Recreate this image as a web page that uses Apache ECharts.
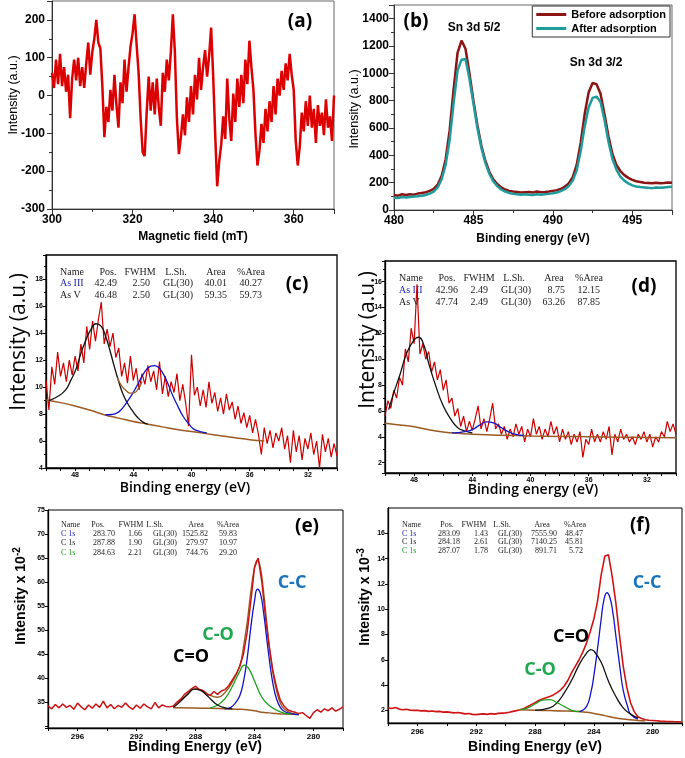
<!DOCTYPE html>
<html><head><meta charset="utf-8">
<script src="https://cdn.jsdelivr.net/npm/echarts@6/dist/echarts.min.js"></script>
<style>html,body{margin:0;padding:0;background:#fff}#c{width:685px;height:758px}</style>
</head><body><div id="c"></div>
<script>
// ---------- (a) EPR spectrum ----------
const a_fieldStart = 300, a_fieldStep = 0.5;
const a_intensity = [60,20,95,30,110,25,75,10,55,-60,
 45,95,40,100,25,75,20,85,140,55,
 115,150,200,140,125,25,-110,-30,-70,15,
 -40,55,-25,-85,35,-20,95,10,75,130,
 165,215,135,60,-60,-150,-160,-45,50,-40,
 35,-50,45,-30,-80,60,10,95,40,115,
 215,115,-60,-155,-110,-50,-105,-5,-70,25,
 -50,55,-10,100,15,75,120,50,105,180,
 55,-100,-240,-175,-130,-55,-115,45,-60,-120,
 5,-70,45,-30,55,-20,95,30,145,75,
 15,-100,-185,-145,-75,-125,-35,-95,-15,-70,
 25,-50,45,0,65,15,85,40,110,55,
 15,-120,-185,-135,-45,-95,-15,-80,0,-85,
 -35,-125,-25,-80,-45,-105,-10,-85,-55,-120,
 0];

// ---------- (b) Sn 3d ----------
const b_energyStart = 480, b_energyStep = 0.25;
const b_before = [110,105,115,110,115,112,120,125,130,140,155,185,250,370,580,880,
 1150,1240,1180,1000,800,620,470,360,280,225,190,165,150,140,135,132,
 128,130,132,128,135,130,132,135,140,145,155,170,195,240,330,490,
 700,860,930,920,850,700,540,410,330,285,255,235,220,210,205,200,
 198,195,200,195,198,202,200];
const b_after = [90,88,95,92,95,98,100,105,110,120,135,165,225,330,510,780,
 1020,1100,1105,960,780,600,455,345,265,210,175,150,135,125,118,115,
 112,115,112,110,115,112,115,118,122,128,138,152,175,215,290,430,
 610,750,820,830,790,660,500,375,295,245,215,195,180,172,168,165,
 162,160,165,162,165,168,170];
const b_series = ['Before adsorption','After adsorption'];

// ---------- (c) As 3d before ----------
const c_energyStart = 50, c_energyStep = -0.2;
const c_intensity = [10.5,8.3,11.5,10.2,12.6,10.8,11.8,10.4,12.0,10.9,
 12.3,11.2,13.2,11.8,14.5,12.8,14.9,13.4,15.0,16.3,
 13.2,14.3,13.0,14.0,12.2,12.9,10.8,11.8,10.3,12.3,
 10.5,11.4,9.8,11.0,10.2,11.6,10.4,11.2,9.8,11.9,
 9.5,10.8,9.3,10.4,9.6,11.0,9.0,10.2,8.8,7.1,
 12.4,9.4,10.0,8.6,9.8,8.5,10.4,8.8,9.6,8.2,
 9.2,8.0,9.5,8.3,8.9,7.6,8.6,7.3,8.1,7.0,
 7.9,6.6,7.6,6.5,5.0,7.0,5.8,6.8,5.5,6.6,
 6.0,7.0,5.4,6.4,4.4,6.8,5.2,6.4,4.6,6.2,
 5.4,6.6,5.0,6.0,4.0,6.5,5.2,6.2,4.8,5.8,
 4.9];
const c_background = [[50,9.05],[49,8.85],[48,8.6],[47,8.3],[46,7.95],[45,7.7],[44,7.45],[43,7.25],[42,7.05],[41,6.85],[40,6.7],[39,6.55],[38,6.4],[37,6.25],[36,6.1],[35,6.0]];
const c_asV = [[49.8,9.0],[49.2,9.3],[48.65,9.8],[48.3,10.5],[47.95,11.3],[47.6,12.5],[47.26,13.5],[46.9,14.3],[46.57,14.7],[46.2,14.5],[45.88,13.7],[45.6,12.7],[45.3,11.5],[45.0,10.4],[44.72,9.5],[44.4,8.8],[44.03,8.2],[43.7,7.75],[43.33,7.4],[43.0,7.25]];
const c_asIII = [[45.9,7.95],[45.5,7.97],[45.18,8.05],[44.85,8.3],[44.5,8.8],[44.15,9.35],[43.8,10.0],[43.45,10.7],[43.1,11.3],[42.8,11.55],[42.53,11.6],[42.25,11.45],[41.95,11.0],[41.6,10.2],[41.26,9.3],[40.9,8.5],[40.56,7.8],[40.2,7.3],[39.87,6.9],[39.4,6.7],[38.95,6.6]];
const c_envelope = [[45.1,10.7],[44.8,10.1],[44.5,9.75],[44.2,9.55],[43.9,9.6],[43.65,9.9],[43.4,10.4]];
const c_names = ['As III','As V'];
const c_pos = ['42.49','46.48'], c_fwhm = ['2.50','2.50'], c_lsh = ['GL(30)','GL(30)'], c_area = ['40.01','59.35'], c_pct = ['40.27','59.73'];

// ---------- (d) As 3d after ----------
const d_energyStart = 50, d_energyStep = -0.2;
const d_intensity = [5.6,6.8,6.2,7.6,7.0,8.6,8.0,10.8,9.8,12.4,
 11.2,15.8,10.4,11.2,10.0,10.6,9.0,9.8,8.4,9.2,
 7.6,8.4,6.6,7.0,5.6,6.2,4.8,5.6,4.4,5.2,
 4.5,5.4,6.4,4.6,5.4,4.4,5.4,6.6,4.6,5.0,
 4.2,4.8,3.8,4.6,4.0,5.0,4.2,4.8,3.6,4.6,
 4.0,5.4,4.2,4.8,3.8,4.6,4.0,5.2,4.2,4.8,
 3.6,4.6,3.8,4.4,3.4,4.2,3.6,4.4,2.4,3.8,
 3.4,4.6,3.6,4.2,3.6,4.4,3.8,4.8,2.6,4.2,
 3.6,4.6,3.8,4.2,3.6,4.0,3.4,4.2,3.8,4.4,
 3.6,4.2,3.2,4.0,3.6,4.4,4.0,5.2,4.4,5.0,
 4.2];
const d_background = [[50,5.05],[49,4.92],[48,4.78],[47,4.55],[46,4.38],[45,4.27],[44,4.2],[43,4.15],[42,4.12],[40,4.07],[38,4.03],[36,4.0],[34,3.97],[32,3.95],[30,3.93]];
const d_asV = [[49.75,6.1],[49.4,7.4],[49,8.7],[48.5,10.5],[48,11.5],[47.7,11.7],[47.3,11.0],[47,9.7],[46.5,7.9],[46,6.4],[45.5,5.4],[45,4.7],[44.5,4.45],[44,4.3]];
const d_asIII = [[45.4,4.3],[45,4.32],[44.5,4.4],[44,4.55],[43.5,4.9],[43,5.15],[42.5,5.05],[42,4.7],[41.5,4.38],[41,4.18],[40.5,4.1]];
const d_names = ['As III','As V'];
const d_pos = ['42.96','47.74'], d_fwhm = ['2.49','2.49'], d_lsh = ['GL(30)','GL(30)'], d_area = ['8.75','63.26'], d_pct = ['12.15','87.85'];

// ---------- (e) C 1s ----------
const e_energyStart = 298, e_energyStep = -0.25;
const e_intensity = [34.2,33.6,34.5,33.8,34.6,33.9,34.3,33.5,34.8,34.0,33.4,34.4,33.7,34.6,33.9,35.2,33.8,34.5,33.6,34.3,
 33.9,34.8,34.0,33.5,34.4,33.7,34.6,34.0,33.6,34.9,33.8,34.4,34.1,34.0,34.2,35.0,35.6,36.6,37.2,37.8,
 38.3,37.6,37.4,36.6,36.4,37.2,36.6,37.3,37.6,38.4,39.6,40.8,42.4,45.0,49.5,56.0,63.0,65.0,60.0,52.5,
 46.5,41.5,38.0,35.4,34.2,33.4,33.1,32.9,32.6,32.8,32.2,31.6,32.8,33.4,32.9,33.6,33.2,33.8,33.1,33.5,
 34.0];
const e_background = [[289.5,33.8],[288,33.75],[287,33.7],[286,33.6],[285,33.5],[284.5,33.4],[284,33.2],[283.5,32.9],[283,32.75],[282.5,32.6],[282,32.5],[281,32.4]];
const e_CC = [[286,33.6],[285.6,33.9],[285.3,34.8],[285,36.3],[284.75,39.2],[284.5,44.0],[284.25,50.5],[284,56.0],[283.8,58.5],[283.6,57.6],[283.4,54.0],[283.2,49.0],[283,44.0],[282.75,38.8],[282.5,35.6],[282.25,33.9],[282,33.1],[281.5,32.6],[281,32.4]];
const e_CO = [[287,33.8],[286.5,34.4],[286,35.7],[285.5,38.3],[285,41.4],[284.7,42.7],[284.4,42.0],[284,39.4],[283.5,36.0],[283,34.3],[282.5,33.3],[282,32.7],[281.5,32.5]];
const e_C_O = [[289.5,33.9],[289,35.2],[288.5,36.7],[288.1,37.7],[287.7,37.5],[287.3,36.6],[287,35.7],[286.5,34.4],[286,33.8],[285.5,33.6]];
const e_envelope = [[289.5,33.9],[289,35.3],[288.5,36.8],[288,37.8],[287.5,37.4],[287,36.4],[286.5,36.0],[286,37.0],[285.5,39.2],[285,42.6],[284.75,46.5],[284.5,51.6],[284.25,58.0],[284,63.0],[283.8,64.6],[283.6,63.0],[283.4,58.5],[283.2,52.5],[283,46.8],[282.75,41.0],[282.5,37.3],[282.25,34.8],[282,33.6],[281.5,32.7],[281,32.4]];
const e_names = ['C 1s','C 1s','C 1s'];
const e_pos = ['283.70','287.88','284.63'], e_fwhm = ['1.66','1.90','2.21'], e_lsh = ['GL(30)','GL(30)','GL(30)'], e_area = ['1525.82','279.97','744.76'], e_pct = ['59.83','10.97','29.20'];

// ---------- (f) C 1s ----------
const f_energyStart = 298, f_energyStep = -0.25;
const f_intensity = [2.20,2.15,2.22,2.10,2.05,2.08,2.02,2.00,2.00,1.96,1.98,1.92,1.95,1.90,1.92,1.86,1.88,1.84,1.80,1.83,
 1.78,1.72,1.75,1.68,1.66,1.70,1.72,1.68,1.74,1.70,1.76,1.78,1.80,1.85,1.92,1.98,2.05,2.15,2.30,2.45,
 2.60,2.78,2.90,3.00,3.10,3.22,3.40,3.62,3.95,4.40,5.00,5.50,6.00,6.60,7.30,8.20,9.20,10.60,12.70,14.20,
 14.30,12.60,10.50,7.90,5.50,3.80,2.60,1.90,1.50,1.35,1.26,1.22,1.20,1.18,1.15,1.14,1.12,1.12,1.10,1.10,
 1.08];
const f_background = [[289,2.05],[288,2.0],[287,1.98],[286,1.95],[285,1.9],[284.5,1.85],[284,1.76],[283.5,1.65],[283,1.52],[282.5,1.4],[282,1.32],[281.5,1.26],[281,1.2],[280.5,1.18]];
const f_CC = [[285,1.9],[284.5,2.3],[284.2,3.4],[284,4.7],[283.7,7.3],[283.5,9.2],[283.3,10.8],[283.1,11.3],[282.9,10.9],[282.7,9.7],[282.5,7.9],[282.2,5.2],[282,3.6],[281.7,2.3],[281.5,1.7],[281,1.3]];
const f_C_O = [[288,2.0],[287,2.2],[286.5,2.6],[286,3.4],[285.5,4.4],[285,5.6],[284.5,6.5],[284.2,6.8],[284,6.7],[283.5,5.8],[283,4.3],[282.5,3.1],[282,2.2],[281.5,1.7],[281,1.4]];
const f_CO = [[289,2.05],[288.5,2.2],[288,2.5],[287.5,2.8],[287,2.85],[286.5,2.6],[286,2.3],[285.5,2.0],[285,1.9]];
const f_names = ['C 1s','C 1s','C 1s'];
const f_pos = ['283.09','284.18','287.07'], f_fwhm = ['1.43','2.61','1.78'], f_lsh = ['GL(30)','GL(30)','GL(30)'], f_area = ['7555.90','7140.25','891.71'], f_pct = ['48.47','45.81','5.72'];

const tableHeader = ['Name','Pos.','FWHM','L.Sh.','Area','%Area'];

// ---------- helpers ----------
function seq(x0, dx, arr){ return arr.map((v,i)=>[+(x0+dx*i).toFixed(3), v]); }
const SANS = '"Liberation Sans", Arial, sans-serif';
const OPEN = '"Open Sans", "Liberation Sans", sans-serif';
const SERIF = '"Liberation Serif", "Times New Roman", serif';

function xAx(grid, o, style){
  const big = style==='big';
  return Object.assign({
    gridIndex: grid, type:'value',
    axisLine:{onZero:false, lineStyle:{color: big?'#333':'#000', width: big?1:1.3}},
    axisTick:{show:true, length: big?5:3, lineStyle:{color: big?'#333':'#000'}},
    splitLine:{show:false}
  }, o);
}
const yAx = xAx;
function lab(base, extra){ return Object.assign({}, base, extra); }
const bigLab = {color:'#000', fontFamily:SANS, fontWeight:'bold', fontSize:12, margin:6, formatter: v => String(v)};
const smLab = {color:'#000', fontFamily:SANS, fontWeight:'bold', fontSize:7, margin:3};
const midLab = {color:'#000', fontFamily:SANS, fontWeight:'bold', fontSize:8, margin:4};
const mult4 = v => (Math.abs(v % 4) < 1e-6 ? String(v) : '');

const xAxes = [
  xAx(0,{min:300,max:370,interval:20,minorTick:{show:true,splitNumber:2,length:3,lineStyle:{color:'#333'}},axisLabel:lab(bigLab,{showMaxLabel:false,margin:5})},'big'),
  xAx(1,{min:480,max:497.5,interval:5,minorTick:{show:true,splitNumber:2,length:3,lineStyle:{color:'#333'}},axisLabel:lab(bigLab,{showMaxLabel:false,margin:5})},'big'),
  xAx(2,{min:30,max:50,interval:1,inverse:true,axisLabel:lab(smLab,{formatter:mult4,margin:4})},'small'),
  xAx(3,{min:30,max:50,interval:1,inverse:true,axisLabel:lab(smLab,{formatter:mult4,margin:4})},'small'),
  xAx(4,{min:278,max:298,interval:2,inverse:true,axisLabel:lab(midLab,{formatter:mult4,margin:5})},'mid'),
  xAx(5,{min:278,max:298,interval:2,inverse:true,axisLabel:lab(midLab,{formatter:mult4,margin:5})},'mid')
];
const yAxes = [
  yAx(0,{min:-300,max:250,interval:100,minorTick:{show:true,splitNumber:2,length:3,lineStyle:{color:'#333'}},axisLabel:lab(bigLab,{showMaxLabel:false,margin:7})},'big'),
  yAx(1,{min:0,max:1500,interval:200,minorTick:{show:true,splitNumber:2,length:3,lineStyle:{color:'#333'}},axisLabel:lab(bigLab,{showMaxLabel:false,margin:5})},'big'),
  yAx(2,{min:4,max:19.8,interval:2,minorTick:{show:true,splitNumber:2,length:2,lineStyle:{color:'#000'}},axisLabel:lab(smLab,{showMaxLabel:false})},'small'),
  yAx(3,{min:1.2,max:17.6,splitNumber:8,minorTick:{show:true,splitNumber:2,length:2,lineStyle:{color:'#000'}},axisLabel:lab(smLab,{showMaxLabel:false,showMinLabel:false})},'small'),
  yAx(4,{min:29.6,max:75,splitNumber:9,axisLabel:lab(smLab,{formatter:v=>(v>=35 && Math.abs(v%5)<1e-6)?String(v):''})},'small'),
  yAx(5,{min:1,max:18,splitNumber:8,axisLabel:lab(smLab,{showMaxLabel:false,showMinLabel:false})},'small')
];

const grids = [
  {left:52, top:1, width:282, height:208, show:true, borderColor:'#666', borderWidth:1},
  {left:394, top:5, width:278, height:205, show:true, borderColor:'#666', borderWidth:1},
  {left:46, top:255, width:291, height:213, show:true, borderColor:'#000', borderWidth:1.3},
  {left:385, top:261, width:291, height:212, show:true, borderColor:'#000', borderWidth:1.3},
  {left:48, top:510, width:295, height:218, show:true, borderColor:'#000', borderWidth:1},
  {left:388, top:508, width:295, height:215, show:true, borderColor:'#000', borderWidth:1}
];

function line(name, g, data, color, width, smooth, z){
  return {name, type:'line', xAxisIndex:g, yAxisIndex:g, data, symbol:'none', smooth: !!smooth,
    lineStyle:{color, width}, itemStyle:{color}, z: z||2, silent:true};
}
const DRED='#8b1414', TEAL='#1f9b9b', BROWN='#9b5a22', BLUE='#1414c8', GREEN='#1ea01e', BLK='#111';
const series = [
  line('a', 0, seq(a_fieldStart, a_fieldStep, a_intensity), '#dd0000', 2.5),
  line(b_series[0], 1, seq(b_energyStart, b_energyStep, b_before), DRED, 2.5),
  line(b_series[1], 1, seq(b_energyStart, b_energyStep, b_after), TEAL, 2.5),
  line('c', 2, seq(c_energyStart, c_energyStep, c_intensity), '#cc0000', 1.2),
  line('cbg', 2, c_background, BROWN, 1.5, true, 3),
  line('cV', 2, c_asV, BLK, 1.3, true, 3),
  line('cIII', 2, c_asIII, BLUE, 1.3, true, 3),
  line('cenv', 2, c_envelope, BROWN, 1.3, true, 3),
  line('d', 3, seq(d_energyStart, d_energyStep, d_intensity), '#cc0000', 1.2),
  line('dbg', 3, d_background, BROWN, 1.5, true, 3),
  line('dV', 3, d_asV, BLK, 1.3, true, 3),
  line('dIII', 3, d_asIII, BLUE, 1.3, true, 3),
  line('eenv', 4, e_envelope, BROWN, 1.3, true, 2),
  line('e', 4, seq(e_energyStart, e_energyStep, e_intensity), '#c81414', 1.5),
  line('ebg', 4, e_background, BROWN, 1.5, true, 3),
  line('eCC', 4, e_CC, BLUE, 1.3, true, 3),
  line('eCO', 4, e_CO, GREEN, 1.3, true, 3),
  line('eC_O', 4, e_C_O, BLK, 1.3, true, 3),
  line('f', 5, seq(f_energyStart, f_energyStep, f_intensity), '#d01414', 1.6),
  line('fbg', 5, f_background, BROWN, 1.5, true, 3),
  line('fCC', 5, f_CC, BLUE, 1.3, true, 3),
  line('fC_O', 5, f_C_O, BLK, 1.3, true, 3),
  line('fCO', 5, f_CO, GREEN, 1.3, true, 3)
];

// ---------- graphic texts ----------
const G = [];
function T(text, x, y, font, fill, align, rot, extra){
  const st = Object.assign({text, font, fill: fill||'#000', align: align||'center', verticalAlign:'middle',
    textAlign: align||'center', textVerticalAlign:'middle'}, extra||{});
  G.push({type:'text', x, y, rotation: rot||0, z:100, silent:true, style: st});
}
const panelFont = 'bold 19px ' + OPEN;
T('(a)', 300, 22, panelFont); T('(b)', 416, 22, panelFont);
T('(c)', 297, 285, panelFont); T('(d)', 644, 287, panelFont);
T('(e)', 307, 527, panelFont); T('(f)', 640, 526, panelFont);

T('Magnetic field (mT)', 193, 237, 'bold 12px ' + SANS);
T('Intensity (a.u.)', 14, 95, '12.5px ' + SANS, '#000', 'center', Math.PI/2);
T('Binding energy (eV)', 533, 239, 'bold 12px ' + SANS);
T('Intensity (a.u.)', 355, 109, '12.5px ' + SANS, '#000', 'center', Math.PI/2);
T('Sn 3d 5/2', 474, 28, 'bold 12px ' + SANS);
T('Sn 3d 3/2', 596, 63, 'bold 12px ' + SANS);

T('Binding energy (eV)', 185, 488, '600 14px ' + OPEN);
T('Intensity (a.u.)', 19, 342, '21px ' + OPEN, '#000', 'center', Math.PI/2);
T('Binding energy (eV)', 533, 490, '600 14px ' + OPEN);
T('Intensity (a.u.)', 368, 340, '21px ' + OPEN, '#000', 'center', Math.PI/2);

const supRich = {n:{font:'bold 14px ' + SANS, fill:'#000'}, s:{font:'bold 10px ' + SANS, fill:'#000', verticalAlign:'top', padding:[0,0,8,0]}};
T('{n|Intensity x 10}{s|-2}', 21, 596, 'bold 14px ' + SANS, '#000', 'center', Math.PI/2, {rich: supRich});
T('{n|Intensity x 10}{s|-3}', 365, 597, 'bold 14px ' + SANS, '#000', 'center', Math.PI/2, {rich: supRich});
T('Binding Energy (eV)', 195, 747, 'bold 14px ' + SANS);
T('Binding Energy (eV)', 535, 747, 'bold 14px ' + SANS);

const pk = 'bold 18px ' + OPEN;
T('C-C', 292, 583, pk, '#1b75bc'); T('C-O', 218, 635, pk, '#1fa84f'); T('C=O', 191, 657, pk, '#000');
T('C-C', 647, 583, pk, '#1b75bc'); T('C=O', 571, 637, pk, '#000'); T('C-O', 540, 670, pk, '#1fa84f');

function table(cfg){
  const f = cfg.size + 'px ' + SERIF;
  T(tableHeader[0], cfg.nameX, cfg.headY, f, '#222', 'left');
  for (let k=0;k<5;k++) T(tableHeader[k+1], cfg.headX[k], cfg.headY, f, '#222', 'center');
  const cols = [cfg.pos, cfg.fwhm, cfg.lsh, cfg.area, cfg.pct];
  cfg.names.forEach((nm, r)=>{
    T(nm, cfg.nameX, cfg.rowY[r], f, cfg.colors[r], 'left');
    for (let k=0;k<5;k++){
      T(cols[k][r], cfg.valX[k], cfg.rowY[r], f, '#222', k===2 ? 'center' : 'right');
    }
  });
}
table({size:10, nameX:60, headY:272, rowY:[283.5,295], headX:[108,140,176,216,251], valX:[117,150,178,227,262],
  names:c_names, pos:c_pos, fwhm:c_fwhm, lsh:c_lsh, area:c_area, pct:c_pct, colors:['#2424b4','#222']});
table({size:10, nameX:399, headY:278, rowY:[290,302], headX:[447,479,514,554,589], valX:[458,488,516,565,600],
  names:d_names, pos:d_pos, fwhm:d_fwhm, lsh:d_lsh, area:d_area, pct:d_pct, colors:['#2424b4','#222']});
table({size:8, nameX:61, headY:525, rowY:[533.5,543,552.5], headX:[98,131,155,196,228], valX:[115,142,165,208,237],
  names:e_names, pos:e_pos, fwhm:e_fwhm, lsh:e_lsh, area:e_area, pct:e_pct, colors:['#2424b4','#222','#22a022']});
table({size:8, nameX:402, headY:525, rowY:[533.5,542,550.5], headX:[447,474,502,542,575], valX:[460,488,510,557,583],
  names:f_names, pos:f_pos, fwhm:f_fwhm, lsh:f_lsh, area:f_area, pct:f_pct, colors:['#2424b4','#222','#22a022']});

const chart = echarts.init(document.getElementById('c'), null, {renderer:'canvas'});
chart.setOption({
  animation:false,
  backgroundColor:'#fff',
  grid: grids,
  xAxis: xAxes,
  yAxis: yAxes,
  legend: {data: b_series, orient:'vertical', right:15, top:6, icon:'rect', itemWidth:30, itemHeight:3, itemGap:3,
    padding:[3,4,3,4], borderColor:'#333', borderWidth:1, backgroundColor:'#fff', selectedMode:false,
    textStyle:{fontFamily:SANS, fontWeight:'bold', fontSize:11, color:'#000'}},
  series: series,
  graphic: G
});
</script></body></html>
